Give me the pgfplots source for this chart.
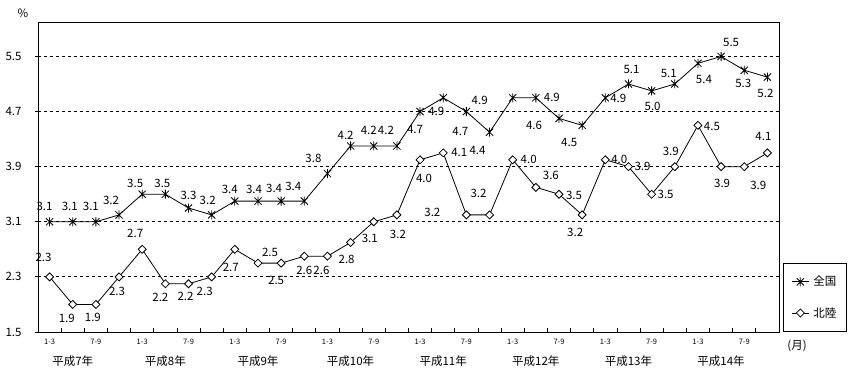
\documentclass[border=0pt]{standalone}
\usepackage{fontspec}
\setmainfont{Noto Sans CJK JP}
\usepackage{pgfplots}
\pgfplotsset{compat=1.18}
\usepackage{pgfplotstable}

\pgfdeclareplotmark{xstar}{%
  \pgfpathmoveto{\pgfqpoint{-0.8\pgfplotmarksize}{-0.8\pgfplotmarksize}}%
  \pgfpathlineto{\pgfqpoint{0.8\pgfplotmarksize}{0.8\pgfplotmarksize}}%
  \pgfpathmoveto{\pgfqpoint{-0.8\pgfplotmarksize}{0.8\pgfplotmarksize}}%
  \pgfpathlineto{\pgfqpoint{0.8\pgfplotmarksize}{-0.8\pgfplotmarksize}}%
  \pgfpathmoveto{\pgfqpoint{0pt}{-\pgfplotmarksize}}%
  \pgfpathlineto{\pgfqpoint{0pt}{\pgfplotmarksize}}%
  \pgfusepathqstroke}
\pgfdeclareplotmark{mydiamond}{%
  \pgfpathmoveto{\pgfqpoint{0pt}{\pgfplotmarksize}}%
  \pgfpathlineto{\pgfqpoint{\pgfplotmarksize}{0pt}}%
  \pgfpathlineto{\pgfqpoint{0pt}{-\pgfplotmarksize}}%
  \pgfpathlineto{\pgfqpoint{-\pgfplotmarksize}{0pt}}%
  \pgfpathclose
  \pgfusepathqfillstroke}

\pgfplotstableread{
x y dx dy
0 3.1 -5 15
1 3.1 -3 15
2 3.1 -5 15
3 3.2 -8 14
4 3.5 -7 11
5 3.5 -3 11
6 3.3 0 13
7 3.2 -4 14
8 3.4 -5 12
9 3.4 -4 12
10 3.4 -7 13
11 3.4 -11 15
12 3.8 -14 15
13 4.2 -5 11
14 4.2 -5 16
15 4.2 -11 16
16 4.7 -5 -18
17 4.9 -7 -14
18 4.7 -6 -20
19 4.4 -12 -18
20 4.9 -33 -3
21 4.9 16 0
22 4.6 -25 -7
23 4.5 -13 -17
24 4.9 13 -1
25 5.1 3 15
26 5.0 1 -16
27 5.1 -6 11
28 5.4 6 -16
29 5.5 10 14
30 5.3 -1 -13
31 5.2 -2 -16
}\zenkoku

\pgfplotstableread{
x y dx dy
0 2.3 -6 19
1 1.9 -6 -14
2 1.9 -3 -13
3 2.3 -2 -15
4 2.7 -7 16
5 2.2 -5 -14
6 2.2 -3 -13
7 2.3 -7 -15
8 2.7 -4 -18
9 2.5 12 11
10 2.5 -5 -17
11 2.6 0 -14
12 2.6 -6 -14
13 2.8 -4 -17
14 3.1 -4 -17
15 3.2 1 -20
16 4.0 4 -19
17 4.1 16 0
18 3.2 -34 2
19 3.2 -11 21
20 4.0 16 0
21 3.6 15 12
22 3.5 15 -1
23 3.2 -7 -18
24 4.0 14 0
25 3.9 14 0
26 3.5 14 0
27 3.9 -4 15
28 4.5 14 -1
29 3.9 1 -17
30 3.9 14 -19
31 4.1 -4 16
}\hokuriku

\newcommand\lf{\fontsize{11.5}{13}\selectfont}

\begin{document}
\begin{tikzpicture}
\path[use as bounding box] (0,0) rectangle (860pt,370pt);
\begin{axis}[
  at={(38pt,38pt)}, anchor=south west,
  width=741pt, height=310pt, scale only axis,
  xmin=-0.5, xmax=31.5, ymin=1.5, ymax=6,
  clip=false,
  axis line style={line width=0.8pt},
  tick pos=left,
  ytick={1.5,2.3,3.1,3.9,4.7,5.5},
  yticklabels={1.5,2.3,3.1,3.9,4.7,5.5},
  ytick align=outside,
  xtick align=inside,
  major tick length=3pt,
  minor tick length=4pt,
  tick style={black, line width=0.8pt},
  major x tick style={draw=none},
  yticklabel style={font=\lf, xshift=-10pt},
  xtick={0,2,...,30},
  xticklabels={1-3,7-9,1-3,7-9,1-3,7-9,1-3,7-9,1-3,7-9,1-3,7-9,1-3,7-9,1-3,7-9},
  xticklabel style={font=\fontsize{7.5}{8}\selectfont, yshift=-4pt},
  minor xtick={-0.5,0.5,...,31.5},
  extra x ticks={1,5,9,13,17,21,25,29},
  extra x tick labels={平成7年,平成8年,平成9年,平成10年,平成11年,平成12年,平成13年,平成14年},
  extra x tick style={major x tick style={draw=none}, xticklabel style={font=\lf, yshift=-16pt}},
  ymajorgrids,
  grid style={black, line width=0.8pt, dash pattern=on 3pt off 3pt},
  legend style={at={(axis description cs:1.0054,0)}, anchor=south west,
    draw=black, line width=0.8pt, font=\lf, inner xsep=8pt, inner ysep=11pt,
    row sep=16pt, legend cell align=left,
    /tikz/every odd column/.append style={column sep=2pt}},
  point meta=explicit symbolic,
  nodes near coords,
  visualization depends on={\thisrow{dx} \as \dx},
  visualization depends on={\thisrow{dy} \as \dy},
  every node near coord/.append style={font=\lf, anchor=center, xshift=\dx pt, yshift=\dy pt, inner sep=0pt},
]
\addplot[black, line width=0.8pt, mark=xstar, mark size=4.5pt, mark options={solid}] table[x=x, y=y, meta=y] {\zenkoku};
\addlegendentry{全国}
\addplot[black, line width=0.8pt, mark=mydiamond, mark size=4pt, mark options={solid, fill=white}] table[x=x, y=y, meta=y] {\hokuriku};
\addlegendentry{北陸}
\end{axis}
\node[font=\lf] at (23pt,357pt) {\%};
\node[font=\lf] at (797pt,24pt) {(月)};
\end{tikzpicture}
\end{document}
